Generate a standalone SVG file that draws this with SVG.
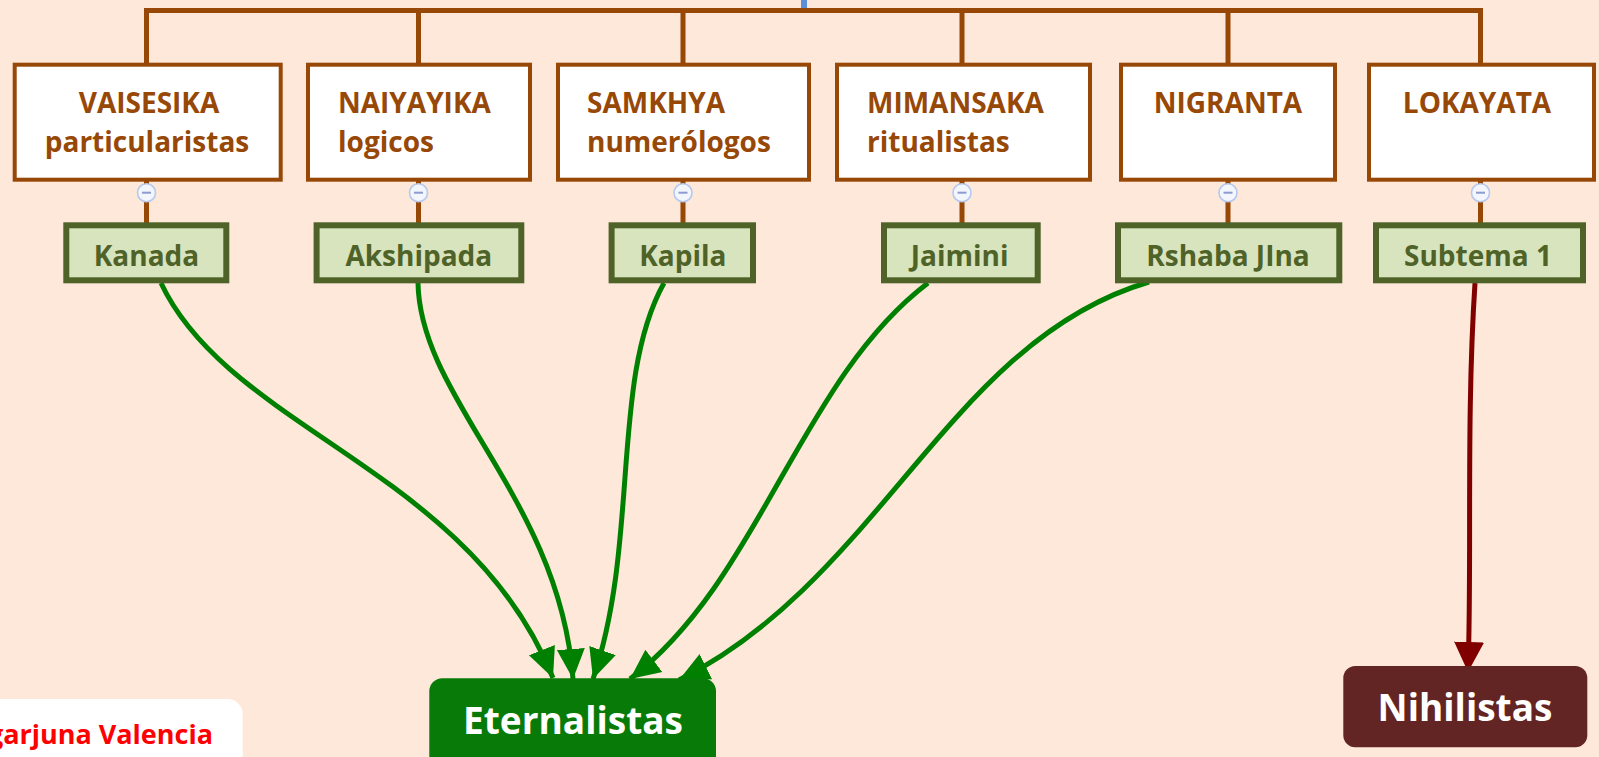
<svg xmlns="http://www.w3.org/2000/svg" width="1599" height="757" viewBox="0 0 1599 757">
<style>
.bg{fill:#fde8d9}
.topbox{fill:#ffffff;stroke:#974806;stroke-width:4}
.toptxt{font-family:"Open Sans","Noto Sans","Liberation Sans",sans-serif;font-weight:700;font-size:28px;fill:#974806}
.subbox{fill:#d7e4bd;stroke:#4f6228;stroke-width:6}
.subtxt{font-family:"Open Sans","Noto Sans","Liberation Sans",sans-serif;font-weight:700;font-size:28px;fill:#4f6228;text-anchor:middle}
.tree{fill:none;stroke:#974806;stroke-width:5}
.btn{fill:#f3f6fd;stroke:#b4c8f0;stroke-width:1.6}
.minus{stroke:#8c9bd0;stroke-width:2}
.g{fill:none;stroke:#008000;stroke-width:5}
.r{fill:none;stroke:#800000;stroke-width:5}
.big{font-family:"Open Sans","Noto Sans","Liberation Sans",sans-serif;font-weight:700;font-size:37px;fill:#ffffff;text-anchor:middle}
</style>
<defs>
<marker id="ag" markerUnits="userSpaceOnUse" markerWidth="34" markerHeight="34" viewBox="0 0 34 34" refX="30" refY="17" orient="auto"><path d="M0,3 L30,17 L0,31 z" fill="#008000"/></marker>
<marker id="ar" markerUnits="userSpaceOnUse" markerWidth="34" markerHeight="34" viewBox="0 0 34 34" refX="30" refY="17" orient="auto"><path d="M0,2 L30,17 L0,32 z" fill="#800000"/></marker>
</defs>
<rect class="bg" x="0" y="0" width="1599" height="757"/>
<rect x="801" y="0" width="6" height="10" fill="#5b8fd6"/>
<g id="connectors">
<path class="tree" d="M146.5,63 V10.5 H1480.5 V63 M418.5,10.5 V63 M683,10.5 V63 M962,10.5 V63 M1228,10.5 V63"/>
<path class="tree" d="M146.5,181 V223 M418.5,181 V223 M683,181 V223 M962,181 V223 M1228,181 V223 M1480.5,181 V223"/>
<path class="g" marker-end="url(#ag)" d="M161,283 C230,430 470,470 553,678"/>
<path class="g" marker-end="url(#ag)" d="M418,283 C420,400 560,500 573,679"/>
<path class="g" marker-end="url(#ag)" d="M664,283 C610,380 640,540 593,679"/>
<path class="g" marker-end="url(#ag)" d="M928,283 C800,380 760,580 630,679"/>
<path class="g" marker-end="url(#ag)" d="M1149,282 C950,340 880,580 679,680"/>
<path class="r" marker-end="url(#ar)" d="M1475,283 C1466,420 1472,560 1468,672"/>
</g>
<g id="vaisesika"><rect class="topbox" x="14.7" y="64.7" width="266" height="115"/><text class="toptxt" x="149" y="113" text-anchor="middle">VAISESIKA</text><text class="toptxt" x="147" y="151.5" text-anchor="middle">particularistas</text></g>
<g id="naiyayika"><rect class="topbox" x="308" y="64.7" width="222" height="115"/><text class="toptxt" x="338" y="113">NAIYAYIKA</text><text class="toptxt" x="338" y="151.5">logicos</text></g>
<g id="samkhya"><rect class="topbox" x="558" y="64.7" width="251" height="115"/><text class="toptxt" x="587" y="113">SAMKHYA</text><text class="toptxt" x="587" y="151.5">numerólogos</text></g>
<g id="mimansaka"><rect class="topbox" x="837" y="64.7" width="253" height="115"/><text class="toptxt" x="867" y="113">MIMANSAKA</text><text class="toptxt" x="867" y="151.5">ritualistas</text></g>
<g id="nigranta"><rect class="topbox" x="1121" y="64.7" width="214" height="115"/><text class="toptxt" x="1228" y="113" text-anchor="middle">NIGRANTA</text></g>
<g id="lokayata"><rect class="topbox" x="1369" y="64.7" width="225" height="115"/><text class="toptxt" x="1477" y="113" text-anchor="middle">LOKAYATA</text></g>
<g id="buttons">
<circle class="btn" cx="146.5" cy="192.7" r="9"/><line class="minus" x1="142" y1="192.7" x2="151" y2="192.7"/>
<circle class="btn" cx="418.5" cy="192.7" r="9"/><line class="minus" x1="414" y1="192.7" x2="423" y2="192.7"/>
<circle class="btn" cx="683" cy="192.7" r="9"/><line class="minus" x1="678.5" y1="192.7" x2="687.5" y2="192.7"/>
<circle class="btn" cx="962" cy="192.7" r="9"/><line class="minus" x1="957.5" y1="192.7" x2="966.5" y2="192.7"/>
<circle class="btn" cx="1228" cy="192.7" r="9"/><line class="minus" x1="1223.5" y1="192.7" x2="1232.5" y2="192.7"/>
<circle class="btn" cx="1480.5" cy="192.7" r="9"/><line class="minus" x1="1476" y1="192.7" x2="1485" y2="192.7"/>
</g>
<g id="kanada"><rect class="subbox" x="66.3" y="225.3" width="160" height="55"/><text class="subtxt" x="146.5" y="266">Kanada</text></g>
<g id="akshipada"><rect class="subbox" x="316.6" y="225.3" width="204.7" height="55"/><text class="subtxt" x="418.8" y="266">Akshipada</text></g>
<g id="kapila"><rect class="subbox" x="611.6" y="225.3" width="141.4" height="55"/><text class="subtxt" x="682.8" y="266">Kapila</text></g>
<g id="jaimini"><rect class="subbox" x="884" y="225.3" width="153.7" height="55"/><text class="subtxt" x="959.6" y="266">Jaimini</text></g>
<g id="rshaba"><rect class="subbox" x="1118" y="225.3" width="221.3" height="55"/><text class="subtxt" x="1228" y="266">Rshaba JIna</text></g>
<g id="subtema1"><rect class="subbox" x="1376" y="225.3" width="207" height="55"/><text class="subtxt" x="1478" y="266">Subtema 1</text></g>
<g id="eternalistas"><rect x="429.3" y="678.3" width="286.7" height="110" rx="13" fill="#077a07"/><text class="big" x="573" y="734">Eternalistas</text></g>
<g id="nihilistas"><rect x="1343.3" y="666" width="244" height="81.3" rx="12" fill="#632523"/><text class="big" x="1465" y="721">Nihilistas</text></g>
<g id="author"><rect x="-30" y="699" width="272.7" height="90" rx="15" fill="#ffffff"/><text x="213" y="744" text-anchor="end" font-family="'Open Sans','Noto Sans','Liberation Sans',sans-serif" font-weight="700" font-size="27" fill="#ff0000">garjuna Valencia</text></g>
</svg>
